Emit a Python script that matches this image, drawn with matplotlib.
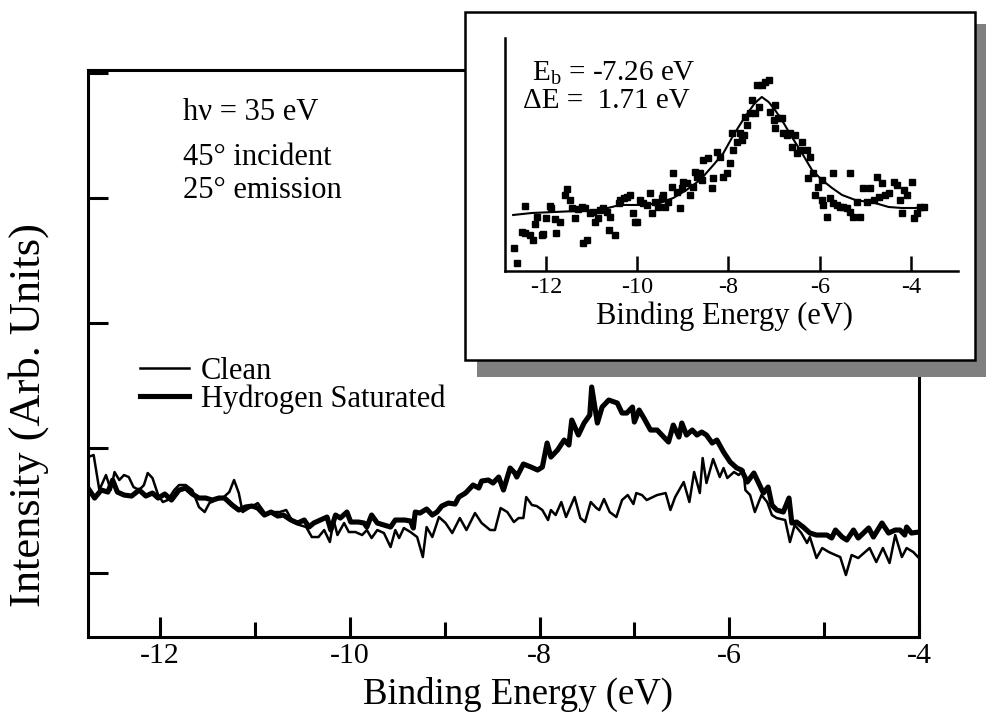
import matplotlib
matplotlib.use("Agg")
import matplotlib.pyplot as plt
from matplotlib.patches import Rectangle

plt.rcParams['font.family'] = ['Liberation Serif', 'DejaVu Serif']
plt.rcParams['axes.unicode_minus'] = False
plt.rcParams['mathtext.fontset'] = 'custom'
plt.rcParams['mathtext.rm'] = 'Liberation Serif'

# main panel: photoemission spectra (arb. units)
clean_E = [-12.76, -12.70, -12.64, -12.57, -12.52, -12.48, -12.43, -12.38, -12.33, -12.28,
           -12.22, -12.17, -12.13, -12.08, -12.02, -11.97, -11.92, -11.85, -11.80, -11.73,
           -11.66, -11.59, -11.53, -11.48, -11.41, -11.34, -11.27, -11.22, -11.17, -11.13,
           -11.06, -10.97, -10.88, -10.81, -10.74, -10.67, -10.60, -10.53, -10.46, -10.40,
           -10.33, -10.27, -10.21, -10.17, -10.13, -10.06, -10.01, -9.94, -9.87, -9.82,
           -9.77, -9.71, -9.64, -9.57, -9.52, -9.48, -9.43, -9.36, -9.29, -9.23,
           -9.19, -9.13, -9.06, -8.99, -8.92, -8.84, -8.77, -8.68, -8.61, -8.52,
           -8.47, -8.41, -8.34, -8.27, -8.22, -8.17, -8.14, -8.08, -8.03, -7.97,
           -7.91, -7.88, -7.83, -7.77, -7.72, -7.63, -7.57, -7.52, -7.46, -7.40,
           -7.37, -7.32, -7.26, -7.19, -7.13, -7.07, -7.01, -6.98, -6.92, -6.87,
           -6.76, -6.67, -6.62, -6.57, -6.48, -6.42, -6.37, -6.31, -6.28, -6.24,
           -6.17, -6.10, -6.06, -6.02, -5.95, -5.90, -5.85, -5.83, -5.78, -5.73,
           -5.66, -5.60, -5.55, -5.50, -5.41, -5.36, -5.31, -5.24, -5.18, -5.15,
           -5.08, -5.02, -4.95, -4.88, -4.83, -4.77, -4.71, -4.64, -4.52, -4.45,
           -4.38, -4.31, -4.25, -4.18, -4.13, -4.06, -4.00]
clean_I = [116, 118, 83, 98, 83, 101, 93, 98, 96, 86,
           83, 88, 100, 95, 78, 71, 73, 83, 88, 88,
           83, 66, 61, 70, 73, 75, 81, 93, 80, 61,
           65, 70, 58, 61, 61, 63, 51, 48, 46, 36,
           36, 43, 31, 53, 38, 50, 41, 41, 38, 43,
           35, 43, 40, 26, 43, 35, 45, 41, 36, 16,
           46, 36, 56, 50, 40, 55, 43, 60, 50, 43,
           43, 65, 61, 51, 55, 55, 76, 68, 67, 63,
           53, 63, 58, 71, 56, 76, 55, 51, 71, 65,
           63, 74, 61, 56, 73, 78, 69, 80, 78, 73,
           78, 80, 63, 76, 91, 71, 101, 80, 115, 90,
           114, 96, 105, 95, 101, 98, 103, 83, 78, 61,
           78, 71, 58, 55, 53, 31, 48, 40, 30, 36,
           15, 25, 21, 18, 16, -2, 18, 15, 25, 11,
           25, 10, 38, 16, 25, 21, 15]

hsat_E = [-12.76, -12.69, -12.62, -12.55, -12.50, -12.45, -12.38, -12.30, -12.22, -12.15,
          -12.08, -12.02, -11.95, -11.88, -11.80, -11.73, -11.66, -11.59, -11.52, -11.45,
          -11.38, -11.32, -11.24, -11.17, -11.10, -11.03, -10.97, -10.90, -10.83, -10.76,
          -10.70, -10.62, -10.55, -10.48, -10.43, -10.38, -10.31, -10.24, -10.20, -10.15,
          -10.10, -10.03, -9.99, -9.91, -9.85, -9.82, -9.77, -9.71, -9.64, -9.57,
          -9.52, -9.42, -9.36, -9.33, -9.31, -9.26, -9.19, -9.13, -9.08, -9.03,
          -8.96, -8.89, -8.85, -8.78, -8.73, -8.70, -8.64, -8.61, -8.54, -8.49,
          -8.43, -8.38, -8.31, -8.26, -8.24, -8.17, -8.09, -8.02, -7.97, -7.92,
          -7.88, -7.81, -7.74, -7.69, -7.66, -7.59, -7.53, -7.47, -7.45, -7.39,
          -7.34, -7.27, -7.18, -7.13, -7.08, -7.02, -7.00, -6.95, -6.90, -6.83,
          -6.76, -6.69, -6.64, -6.59, -6.53, -6.50, -6.45, -6.39, -6.34, -6.29,
          -6.24, -6.18, -6.13, -6.06, -5.99, -5.92, -5.87, -5.81, -5.74, -5.67,
          -5.64, -5.59, -5.55, -5.50, -5.43, -5.37, -5.34, -5.29, -5.22, -5.15,
          -5.08, -4.97, -4.92, -4.88, -4.81, -4.76, -4.69, -4.64, -4.53, -4.48,
          -4.39, -4.32, -4.25, -4.20, -4.15, -4.13, -4.08, -4.00]
hsat_I = [85, 75, 83, 81, 93, 81, 78, 77, 83, 77,
          80, 75, 79, 73, 83, 85, 79, 75, 75, 73,
          75, 75, 68, 63, 66, 67, 65, 58, 61, 57,
          58, 53, 50, 53, 46, 50, 53, 56, 43, 58,
          55, 61, 51, 51, 50, 46, 58, 50, 48, 46,
          53, 53, 52, 45, 61, 60, 64, 58, 61, 67,
          70, 69, 76, 80, 85, 88, 85, 92, 93, 90,
          96, 83, 105, 100, 96, 109, 106, 103, 106, 130,
          116, 123, 133, 128, 153, 138, 150, 158, 186, 150,
          166, 173, 170, 160, 160, 166, 151, 163, 155, 143,
          143, 136, 131, 148, 136, 150, 138, 143, 138, 141,
          138, 130, 133, 121, 111, 105, 103, 91, 100, 86,
          80, 86, 68, 63, 61, 75, 50, 51, 46, 40,
          38, 38, 35, 43, 36, 33, 43, 35, 45, 36,
          50, 40, 43, 43, 38, 46, 40, 41]

# inset: difference spectrum and Lorentzian fit
diff_E = [-12.70, -12.64, -12.53, -12.46, -12.46, -12.35, -12.28, -12.24, -12.20, -12.09,
          -12.06, -11.99, -11.91, -11.88, -11.80, -11.77, -11.69, -11.58, -11.55, -11.47,
          -11.44, -11.36, -11.29, -11.22, -11.18, -11.14, -11.11, -11.04, -10.96, -10.93,
          -10.85, -10.82, -10.74, -10.67, -10.63, -10.60, -10.49, -10.41, -10.38, -10.30,
          -10.23, -10.16, -10.09, -10.05, -10.01, -9.94, -9.87, -9.79, -9.72, -9.68,
          -9.61, -9.54, -9.46, -9.43, -9.39, -9.32, -9.24, -9.21, -9.13, -9.06,
          -9.02, -8.99, -8.91, -8.84, -8.77, -8.73, -8.70, -8.62, -8.59, -8.55,
          -8.44, -8.37, -8.33, -8.26, -8.18, -8.11, -8.04, -7.96, -7.93, -7.89,
          -7.82, -7.75, -7.71, -7.67, -7.60, -7.64, -7.53, -7.49, -7.42, -7.34,
          -7.38, -7.27, -7.20, -7.12, -7.09, -7.01, -6.98, -6.98, -6.91, -6.83,
          -6.80, -6.72, -6.65, -6.61, -6.54, -6.50, -6.43, -6.39, -6.28, -6.21,
          -6.25, -6.14, -6.10, -6.03, -5.95, -5.95, -5.92, -5.84, -5.77, -5.70,
          -5.70, -5.62, -5.55, -5.48, -5.41, -5.33, -5.33, -5.26, -5.19, -5.11,
          -5.04, -4.97, -4.89, -4.82, -4.75, -4.71, -4.64, -4.57, -4.49, -4.38,
          -4.31, -4.24, -4.20, -4.16, -4.09, -3.98, -3.94, -3.87, -3.80, -3.72]
diff_I = [23, 8, 39, 65, 38, 36, 31, 47, 54, 36,
          37, 53, 65, 63, 52, 38, 49, 76, 82, 71,
          63, 53, 62, 64, 28, 63, 31, 58, 59, 49,
          53, 61, 63, 59, 41, 54, 36, 68, 71, 73,
          74, 76, 58, 49, 49, 71, 68, 66, 78, 58,
          69, 64, 73, 76, 64, 69, 84, 98, 79, 63,
          83, 89, 88, 76, 84, 99, 94, 98, 91, 111,
          113, 83, 93, 119, 114, 94, 98, 108, 138, 121,
          129, 138, 131, 136, 146, 154, 158, 171, 158, 164,
          186, 186, 189, 191, 159, 151, 166, 143, 153, 153,
          138, 136, 138, 124, 136, 118, 121, 129, 121, 114,
          93, 98, 76, 84, 91, 71, 66, 54, 73, 98,
          68, 66, 64, 64, 63, 98, 59, 54, 69, 54,
          83, 69, 83, 71, 94, 74, 88, 76, 78, 89,
          86, 71, 58, 81, 76, 89, 53, 58, 64, 64]

fit_E = [-12.72, -12.31, -10.82, -10.38, -9.87, -9.50, -9.21, -8.92, -8.62, -8.33,
         -8.11, -7.89, -7.64, -7.42, -7.27, -7.12, -6.98, -6.83, -6.61, -6.39,
         -6.17, -5.95, -5.73, -5.51, -5.22, -4.79, -4.49, -4.20, -3.90, -3.72]
fit_I = [56, 58, 61, 66, 66, 68, 73, 81, 91, 106,
         118, 136, 154, 168, 174, 169, 161, 151, 134, 118,
         101, 91, 83, 76, 71, 68, 64, 63, 63, 64]

main_xticks = [-12, -10, -8, -6, -4]
main_xminor = [-11, -9, -7, -5]
main_yticks = [0, 125, 250, 375, 500]
inset_xticks = [-12, -10, -8, -6, -4]

fig = plt.figure(figsize=(9.94, 7.19), dpi=100)
ax = fig.add_axes([0.0885, 0.1140, 0.8360, 0.7886])

ax.plot(clean_E, clean_I, color='black', lw=1.8, label='Clean')
ax.plot(hsat_E, hsat_I, color='black', lw=3.7, label='Hydrogen Saturated')

ax.set_xlim(-12.76, -4.0)
ax.set_ylim(-64, 503)
ax.set_xticks(main_xticks)
ax.set_xticks(main_xminor, minor=True)
ax.set_yticks(main_yticks)
ax.set_yticklabels([])
ax.set_xticklabels([str(t) for t in main_xticks])
ax.tick_params(which='major', direction='in', length=14.4, width=2.2, labelsize=21.5, pad=4)
ax.tick_params(which='minor', direction='in', length=10.8, width=2.2)
for s in ax.spines.values():
    s.set_linewidth(2.2)

ax.set_xlabel('Binding Energy (eV)', fontsize=26.5)
ax.xaxis.set_label_coords(0.517, -0.0705)
ax.set_ylabel('Intensity (Arb. Units)', fontsize=32, va='center')
ax.yaxis.set_label_coords(-0.072, 0.392)

ax.text(0.1143, 0.9118, 'hν = 35 eV', transform=ax.transAxes, fontsize=22, va='baseline')
ax.text(0.1143, 0.8325, '45° incident', transform=ax.transAxes, fontsize=22, va='baseline')
ax.text(0.1143, 0.7743, '25° emission', transform=ax.transAxes, fontsize=22, va='baseline')

ax.legend(loc='upper left', bbox_to_anchor=(0.0626, 0.494), frameon=False, fontsize=22,
          handlelength=1.6, handletextpad=0.4, labelspacing=-0.05, borderpad=0, borderaxespad=0)

# inset frame with drop shadow
fig.patches.append(Rectangle((0.4799, 0.4757), 0.5121, 0.491, transform=fig.transFigure,
                             facecolor='#808080', edgecolor='none', zorder=1))
fig.patches.append(Rectangle((0.4678, 0.4993), 0.5131, 0.484, transform=fig.transFigure,
                             facecolor='white', edgecolor='black', lw=1.8, zorder=1.1))

axin = fig.add_axes([0.5080, 0.6231, 0.4557, 0.3241])
axin.set_zorder(2)
axin.patch.set_alpha(0)
axin.plot(diff_E, diff_I, ls='none', marker='s', ms=4, color='black')
axin.plot(fit_E, fit_I, color='black', lw=1.5)
axin.set_xlim(-12.9, -2.97)
axin.set_ylim(0, 233)
axin.set_xticks(inset_xticks)
axin.set_xticklabels([str(t) for t in inset_xticks])
axin.set_yticks([])
axin.spines['top'].set_visible(False)
axin.spines['right'].set_visible(False)
axin.spines['left'].set_linewidth(1.8)
axin.spines['bottom'].set_linewidth(1.8)
axin.tick_params(direction='in', length=10.8, width=1.8, labelsize=17.5, pad=4)
axin.set_xlabel('Binding Energy (eV)', fontsize=22)
axin.xaxis.set_label_coords(0.4857, -0.129)

axin.text(0.0596, 0.8197, r'E$_\mathrm{b}$ = -7.26 eV', transform=axin.transAxes,
          fontsize=21, va='baseline')
axin.text(0.0397, 0.700, 'ΔE =  1.71 eV', transform=axin.transAxes, fontsize=21, va='baseline')

fig.savefig('out.png', dpi=100)
